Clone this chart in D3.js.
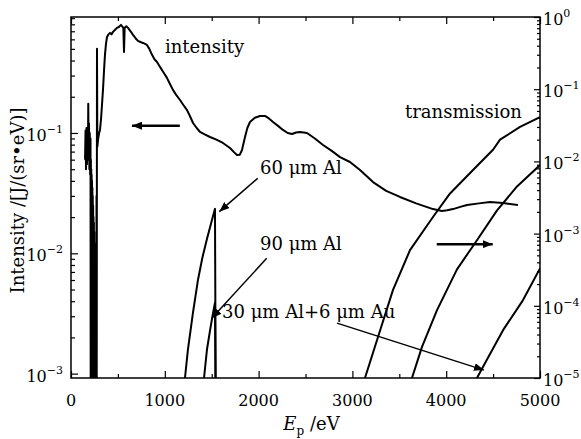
<!DOCTYPE html>
<html>
<head>
<meta charset="utf-8">
<script src="https://cdn.jsdelivr.net/npm/d3@7"></script>
<style>
body { margin: 0; background: #fff; }
text { font-family: 'DejaVu Serif', serif; fill: #000; }
</style>
</head>
<body>
<div id="chart"></div>
<script>
// intensity spectrum (left axis)
const intensityE = [150, 155, 160, 165, 170, 175, 180, 184, 188, 192, 196, 200, 204, 208, 210, 212, 214, 216, 218, 220, 222, 224, 226, 228, 230, 232, 234, 236, 238, 240, 242, 244, 246, 248, 250, 252, 254, 256, 258, 260, 262, 264, 266, 268, 270, 272, 274, 277, 281, 290, 300, 309, 320, 330, 341, 352, 362, 373, 384, 400, 416, 432, 448, 470, 490, 510, 533, 550, 558, 565, 572, 590, 608, 635, 661, 690, 714, 740, 768, 790, 810, 835, 864, 890, 917, 949, 985, 1023, 1055, 1087, 1125, 1162, 1200, 1237, 1270, 1301, 1340, 1375, 1430, 1482, 1550, 1620, 1695, 1740, 1770, 1800, 1823, 1855, 1880, 1908, 1960, 2015, 2068, 2110, 2154, 2210, 2260, 2310, 2356, 2400, 2441, 2516, 2600, 2687, 2780, 2868, 2974, 3081, 3220, 3360, 3507, 3680, 3859, 3955, 4010, 4073, 4150, 4222, 4350, 4467, 4606, 4765];
const intensityVal = [0.06, 0.105, 0.05, 0.11, 0.055, 0.10, 0.06, 0.175, 0.07, 0.12, 0.05, 0.10, 0.045, 0.09, 0.0006, 0.06, 0.0006, 0.05, 0.0006, 0.045, 0.0006, 0.04, 0.0006, 0.035, 0.0006, 0.03, 0.0006, 0.025, 0.0006, 0.02, 0.0006, 0.018, 0.0006, 0.015, 0.0006, 0.012, 0.0006, 0.01, 0.0006, 0.009, 0.0006, 0.008, 0.0006, 0.01, 0.0006, 0.03, 0.0006, 0.50, 0.077, 0.09, 0.10, 0.106, 0.13, 0.17, 0.228, 0.33, 0.446, 0.55, 0.628, 0.66, 0.679, 0.66, 0.692, 0.72, 0.747, 0.76, 0.791, 0.76, 0.75, 0.472, 0.75, 0.77, 0.747, 0.70, 0.653, 0.61, 0.582, 0.57, 0.56, 0.55, 0.539, 0.50, 0.446, 0.41, 0.389, 0.354, 0.32, 0.287, 0.255, 0.228, 0.205, 0.188, 0.17, 0.155, 0.137, 0.121, 0.11, 0.102, 0.097, 0.0926, 0.088, 0.0826, 0.075, 0.069, 0.0656, 0.066, 0.0722, 0.0926, 0.11, 0.1234, 0.134, 0.1385, 0.1385, 0.132, 0.1234, 0.114, 0.106, 0.10, 0.098, 0.101, 0.102, 0.10, 0.09, 0.0795, 0.071, 0.063, 0.0574, 0.0492, 0.0391, 0.033, 0.0294, 0.026, 0.0233, 0.0225, 0.0228, 0.0233, 0.0243, 0.0252, 0.026, 0.0267, 0.0262, 0.0252];

// filter transmissions (right axis)
const al60LowE = [1190, 1215, 1247, 1300, 1354, 1400, 1450, 1500, 1535, 1545];
const al60LowT = [6e-6, 1.0e-5, 2.5e-5, 8.0e-5, 2.3e-4, 4.6e-4, 8.5e-4, 1.5e-3, 2.2e-3, 1e-6];
const al90LowE = [1400, 1418, 1450, 1485, 1514, 1535, 1545];
const al90LowT = [6e-6, 1.0e-5, 2.5e-5, 4.8e-5, 7.9e-5, 1.1e-4, 1e-6];
const al60HighE = [3100, 3134, 3273, 3433, 3614, 3859, 4041, 4286, 4499, 4574, 4787, 5000];
const al60HighT = [7e-6, 1.0e-5, 3.7e-5, 1.66e-4, 5.9e-4, 1.7e-3, 3.6e-3, 7.6e-3, 1.45e-2, 2.0e-2, 3.0e-2, 4.1e-2];
const al90HighE = [3600, 3635, 3742, 3902, 4115, 4328, 4542, 4755, 5000];
const al90HighT = [7e-6, 1.0e-5, 2.7e-5, 8.7e-5, 3.2e-4, 8.1e-4, 2.1e-3, 4.5e-3, 8.9e-3];
const alAuE = [4300, 4328, 4435, 4606, 4819, 5000];
const alAuT = [8e-6, 1.0e-5, 1.8e-5, 4.6e-5, 1.2e-4, 3.3e-4];

// ticks
const xTicks = [0, 1000, 2000, 3000, 4000, 5000];
const leftTicks = [1e-3, 1e-2, 1e-1];
const leftExps = ['\u22123', '\u22122', '\u22121'];
const rightTicks = [1e-5, 1e-4, 1e-3, 1e-2, 1e-1, 1];
const rightExps = ['\u22125', '\u22124', '\u22123', '\u22122', '\u22121', '0'];

const width = 581, height = 439;
const margin = { top: 17, right: 41, bottom: 61, left: 71 };

const x = d3.scaleLinear().domain([0, 5000]).range([margin.left, width - margin.right]);
const yL = d3.scaleLog().domain([9.2e-4, 0.92]).range([height - margin.bottom, margin.top]);
const yR = d3.scaleLog().domain([1e-5, 1]).range([height - margin.bottom, margin.top]);

const svg = d3.select('#chart').append('svg')
	.attr('width', width).attr('height', height)
	.attr('viewBox', [0, 0, width, height]);

const defs = svg.append('defs');
defs.append('clipPath').attr('id', 'plot')
	.append('rect')
	.attr('x', margin.left).attr('y', margin.top)
	.attr('width', width - margin.left - margin.right)
	.attr('height', height - margin.top - margin.bottom);
defs.append('marker').attr('id', 'head')
	.attr('viewBox', '0 0 10 8').attr('refX', 10).attr('refY', 4)
	.attr('markerWidth', 10).attr('markerHeight', 8)
	.attr('markerUnits', 'userSpaceOnUse').attr('orient', 'auto')
	.append('path').attr('d', 'M0,0L10,4L0,8Z').attr('fill', '#000');

// minor tick helpers
const minorsLog = (dom) => {
	const out = [];
	for (let e = -6; e <= 0; e++) for (let k = 2; k <= 9; k++) {
		const v = k * Math.pow(10, e);
		if (v >= dom[0] && v <= dom[1]) out.push(v);
	}
	return out;
};
const xMinor = [500, 1500, 2500, 3500, 4500];

const axisStyle = (g) => {
	g.select('.domain').remove();
	g.selectAll('line').attr('stroke', '#000').attr('stroke-width', 1.2);
};

// bottom / top ticks
svg.append('g').attr('transform', `translate(0,${height - margin.bottom})`)
	.call(d3.axisBottom(x).tickValues(xTicks).tickSize(-7).tickFormat('')).call(axisStyle);
svg.append('g').attr('transform', `translate(0,${height - margin.bottom})`)
	.call(d3.axisBottom(x).tickValues(xMinor).tickSize(-4).tickFormat('')).call(axisStyle);
svg.append('g').attr('transform', `translate(0,${margin.top})`)
	.call(d3.axisTop(x).tickValues(xTicks).tickSize(-7).tickFormat('')).call(axisStyle);
svg.append('g').attr('transform', `translate(0,${margin.top})`)
	.call(d3.axisTop(x).tickValues(xMinor).tickSize(-4).tickFormat('')).call(axisStyle);

// left ticks
svg.append('g').attr('transform', `translate(${margin.left},0)`)
	.call(d3.axisLeft(yL).tickValues(leftTicks).tickSize(-7).tickFormat('')).call(axisStyle);
svg.append('g').attr('transform', `translate(${margin.left},0)`)
	.call(d3.axisLeft(yL).tickValues(minorsLog(yL.domain())).tickSize(-4).tickFormat('')).call(axisStyle);

// right ticks
svg.append('g').attr('transform', `translate(${width - margin.right},0)`)
	.call(d3.axisRight(yR).tickValues(rightTicks).tickSize(-6).tickFormat('')).call(axisStyle);
svg.append('g').attr('transform', `translate(${width - margin.right},0)`)
	.call(d3.axisRight(yR).tickValues(minorsLog(yR.domain())).tickSize(-3).tickFormat('')).call(axisStyle);

// frame
svg.append('rect')
	.attr('x', margin.left).attr('y', margin.top)
	.attr('width', width - margin.left - margin.right)
	.attr('height', height - margin.top - margin.bottom)
	.attr('fill', 'none').attr('stroke', '#000').attr('stroke-width', 1.5);

// tick labels
svg.append('g').selectAll('text').data(xTicks).join('text')
	.attr('x', (d) => x(d)).attr('y', height - margin.bottom + 28)
	.attr('text-anchor', 'middle').attr('font-size', 16)
	.text((d) => d);

const powLabel = (g, ticks, exps, scale, px, anchor) => {
	const t = g.selectAll('text').data(ticks).join('text')
		.attr('x', px).attr('y', (d) => scale(d) + 8)
		.attr('text-anchor', anchor).attr('font-size', 16);
	t.append('tspan').text('10');
	t.append('tspan').attr('font-size', 11).attr('dy', -8).text((d, i) => exps[i]);
};
powLabel(svg.append('g'), leftTicks, leftExps, yL, margin.left - 8, 'end');
powLabel(svg.append('g'), rightTicks, rightExps, yR, width - margin.right + 3, 'start');

// axis titles
svg.append('text')
	.attr('transform', `translate(24,${(margin.top + height - margin.bottom) / 2 + 3}) rotate(-90)`)
	.attr('text-anchor', 'middle').attr('font-size', 18)
	.text('Intensity /[J/(sr\u2022eV)]');
const xt = svg.append('text')
	.attr('x', (margin.left + width - margin.right) / 2 + 6).attr('y', 430)
	.attr('text-anchor', 'middle').attr('font-size', 18);
xt.append('tspan').attr('font-style', 'italic').text('E');
xt.append('tspan').attr('font-size', 12).attr('dy', 5).text('p');
xt.append('tspan').attr('dy', -5).text(' /eV');

// curves
const plot = svg.append('g').attr('clip-path', 'url(#plot)');
const lineL = d3.line().x((d) => x(d[0])).y((d) => yL(d[1]));
const lineR = d3.line().x((d) => x(d[0])).y((d) => yR(d[1]));

plot.append('path')
	.attr('d', lineL(d3.zip(intensityE, intensityVal)))
	.attr('fill', 'none').attr('stroke', '#000').attr('stroke-width', 2).attr('stroke-linejoin', 'round');

[[al60LowE, al60LowT], [al90LowE, al90LowT], [al60HighE, al60HighT], [al90HighE, al90HighT], [alAuE, alAuT]]
	.forEach(([e, t]) => {
		plot.append('path')
			.attr('d', lineR(d3.zip(e, t)))
			.attr('fill', 'none').attr('stroke', '#000').attr('stroke-width', 2).attr('stroke-linejoin', 'round');
	});

// annotations (data coords on left scale)
const labels = [
	{ text: 'intensity', e: 1002, v: 0.46 },
	{ text: 'transmission', e: 3561, v: 0.133 },
	{ text: '60 \u03bcm Al', e: 2015, v: 0.0456 },
	{ text: '90 \u03bcm Al', e: 2015, v: 0.01064 },
	{ text: '30 \u03bcm Al+6 \u03bcm Au', e: 1610, v: 0.0029 }
];
svg.append('g').selectAll('text').data(labels).join('text')
	.attr('x', (d) => x(d.e)).attr('y', (d) => yL(d.v))
	.attr('font-size', 18).text((d) => d.text);

const arrows = [
	{ e0: 1160, v0: 0.115, e1: 650, v1: 0.115, w: 2.5 },
	{ e0: 3899, v0: 0.0119, e1: 4496, v1: 0.0119, w: 2.5 },
	{ e0: 1990, v0: 0.042, e1: 1581, v1: 0.0222, w: 1.5 },
	{ e0: 2086, v0: 0.00908, e1: 1500, v1: 0.00288, w: 1.5 },
	{ e0: 2836, v0: 0.00263, e1: 4403, v1: 0.00107, w: 1.5 }
];
svg.append('g').selectAll('line').data(arrows).join('line')
	.attr('x1', (d) => x(d.e0)).attr('y1', (d) => yL(d.v0))
	.attr('x2', (d) => x(d.e1)).attr('y2', (d) => yL(d.v1))
	.attr('stroke', '#000').attr('stroke-width', (d) => d.w)
	.attr('marker-end', 'url(#head)');
</script>
</body>
</html>
